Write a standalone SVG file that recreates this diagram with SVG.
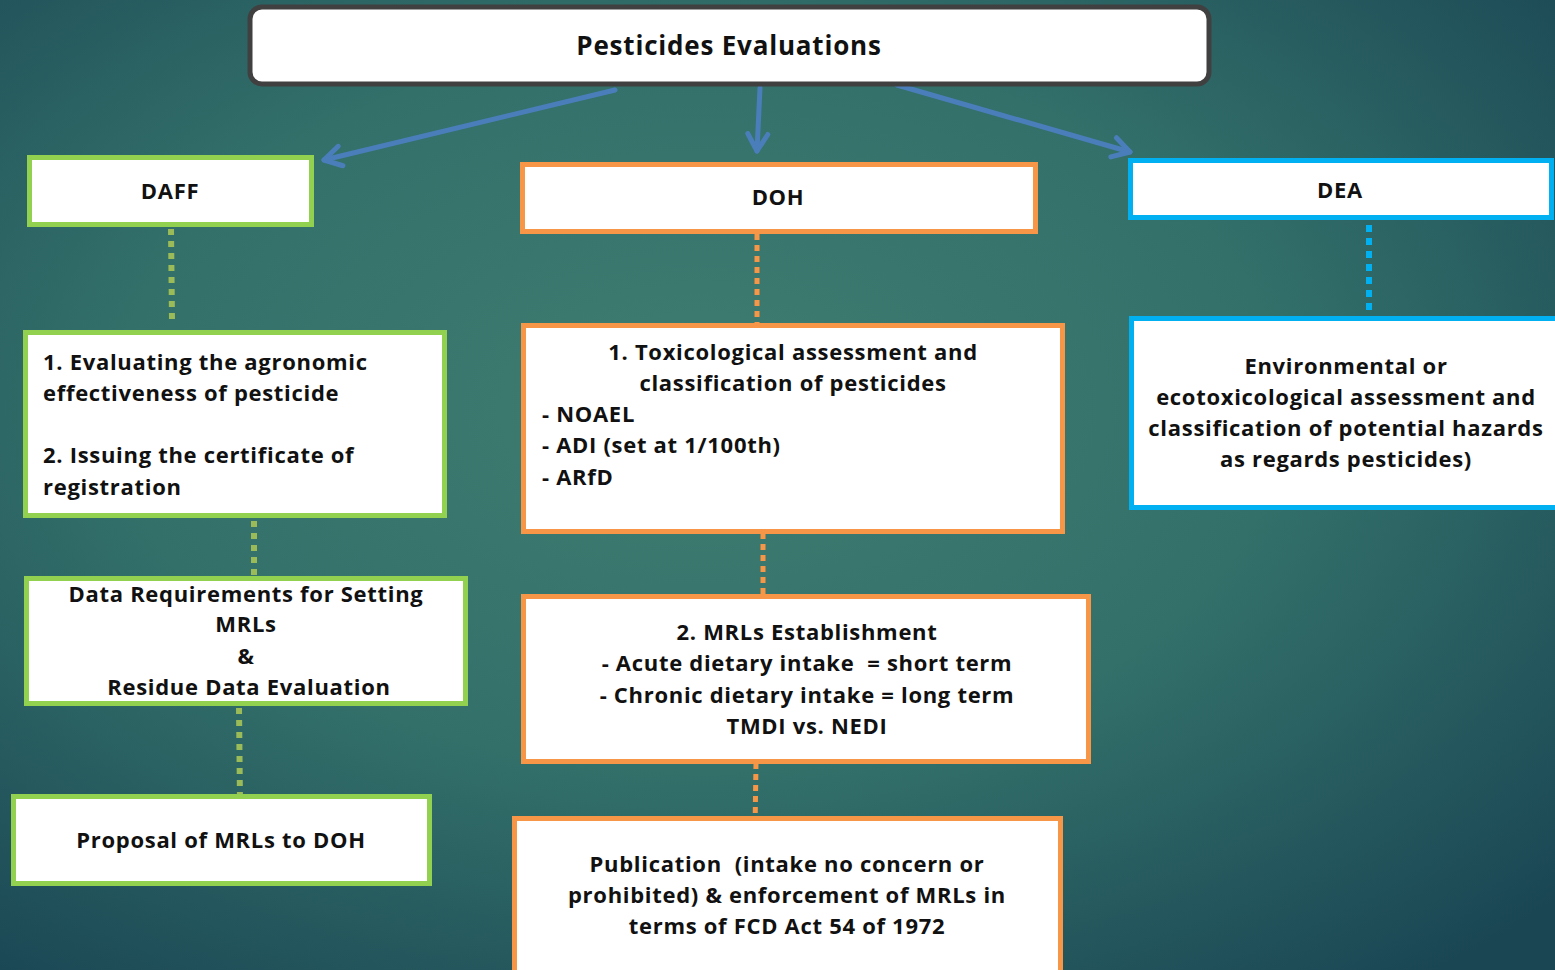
<svg xmlns="http://www.w3.org/2000/svg" width="1555" height="970" viewBox="0 0 1555 970">
<defs>
<radialGradient id="bg" cx="0.45" cy="0.42" r="0.75">
<stop offset="0" stop-color="#3f7d71"/>
<stop offset="0.5" stop-color="#33706a"/>
<stop offset="1" stop-color="#1a4654"/>
</radialGradient>
<marker id="ah" markerUnits="userSpaceOnUse" markerWidth="30" markerHeight="30" refX="20" refY="12" orient="auto" viewBox="0 0 30 24">
<path d="M3,2 L20,12 L3,22" fill="none" stroke="#4a7ebb" stroke-width="5" stroke-linecap="round" stroke-linejoin="round"/>
</marker>
<style>
.t{font-family:"Open Sans",Lato,"Liberation Sans",sans-serif;font-weight:bold;font-size:22px;letter-spacing:0.7px;fill:#111;}
.c{text-anchor:middle;}
.box{fill:#fff;stroke-width:5;}
.g{stroke:#92d050;}
.o{stroke:#f79646;}
.b{stroke:#00b0f0;}
.arr{stroke:#4a7ebb;stroke-width:5;fill:none;stroke-linecap:round;}
.dg{stroke:#9bbb59;stroke-width:6;stroke-dasharray:6 6;fill:none;}
.do{stroke:#f79646;stroke-width:5;stroke-dasharray:6 5;fill:none;}
.db{stroke:#00b0f0;stroke-width:6;stroke-dasharray:7 6;fill:none;}
</style>
</defs>
<rect x="0" y="0" width="1555" height="970" fill="url(#bg)"/>

<g id="connectors">
<line class="arr" x1="615" y1="90" x2="324" y2="160" marker-end="url(#ah)"/>
<line class="arr" x1="760" y1="88" x2="757" y2="151" marker-end="url(#ah)"/>
<line class="arr" x1="897" y1="85" x2="1130" y2="152" marker-end="url(#ah)"/>
<line class="dg" x1="171" y1="229" x2="172" y2="321"/>
<line class="dg" x1="254" y1="521" x2="254" y2="575"/>
<line class="dg" x1="239" y1="708" x2="240" y2="803"/>
<line class="do" x1="757" y1="234" x2="757" y2="324"/>
<line class="do" x1="763" y1="533" x2="763" y2="606"/>
<line class="do" x1="756" y1="763" x2="755" y2="830"/>
<line class="db" x1="1369" y1="225" x2="1369" y2="317"/>
</g>

<g id="top">
<rect x="250" y="7" width="959" height="77" rx="12" fill="#fff" stroke="#404040" stroke-width="5"/>
<text class="t c" x="729" y="55" style="font-size:26px;letter-spacing:0.8px">Pesticides Evaluations</text>
</g>

<g id="daff">
<rect class="box g" x="29.5" y="157.5" width="282" height="67"/>
<text class="t c" x="170" y="199">DAFF</text>
</g>

<g id="doh">
<rect class="box o" x="522.5" y="164.5" width="513" height="67"/>
<text class="t c" x="778" y="205">DOH</text>
</g>

<g id="dea">
<rect class="box b" x="1130.5" y="160.5" width="421" height="57"/>
<text class="t c" x="1340" y="198">DEA</text>
</g>

<g id="daff-tasks">
<rect class="box g" x="25.5" y="332.5" width="419" height="183"/>
<text class="t" x="43" y="370">1. Evaluating the agronomic</text>
<text class="t" x="43" y="401">effectiveness of pesticide</text>
<text class="t" x="43" y="463">2. Issuing the certificate of</text>
<text class="t" x="43" y="495">registration</text>
</g>

<g id="daff-data">
<rect class="box g" x="26.5" y="578.5" width="439" height="125"/>
<text class="t c" x="246" y="602">Data Requirements for Setting</text>
<text class="t c" x="246" y="632">MRLs</text>
<text class="t c" x="246" y="664">&amp;</text>
<text class="t c" x="249" y="695">Residue Data Evaluation</text>
</g>

<g id="daff-proposal">
<rect class="box g" x="13.5" y="796.5" width="416" height="87"/>
<text class="t c" x="221" y="848">Proposal of MRLs to DOH</text>
</g>

<g id="doh-tox">
<rect class="box o" x="523.5" y="325.5" width="539" height="206"/>
<text class="t c" x="793" y="360">1. Toxicological assessment and</text>
<text class="t c" x="793" y="391">classification of pesticides</text>
<text class="t" x="542" y="422">- NOAEL</text>
<text class="t" x="542" y="453">- ADI (set at 1/100th)</text>
<text class="t" x="542" y="485">- ARfD</text>
</g>

<g id="doh-mrl">
<rect class="box o" x="523.5" y="596.5" width="565" height="165"/>
<text class="t c" x="807" y="640">2. MRLs Establishment</text>
<text class="t c" x="807" y="671" xml:space="preserve">- Acute dietary intake  = short term</text>
<text class="t c" x="807" y="703">- Chronic dietary intake = long term</text>
<text class="t c" x="807" y="734">TMDI vs. NEDI</text>
</g>

<g id="doh-pub">
<rect class="box o" x="514.5" y="818.5" width="546" height="160"/>
<text class="t c" x="787" y="872" xml:space="preserve">Publication  (intake no concern or</text>
<text class="t c" x="787" y="903">prohibited) &amp; enforcement of MRLs in</text>
<text class="t c" x="787" y="934">terms of FCD Act 54 of 1972</text>
</g>

<g id="dea-env">
<rect class="box b" x="1131.5" y="318.5" width="440" height="189"/>
<text class="t c" x="1346" y="374">Environmental or</text>
<text class="t c" x="1346" y="405">ecotoxicological assessment and</text>
<text class="t c" x="1346" y="436">classification of potential hazards</text>
<text class="t c" x="1346" y="467">as regards pesticides)</text>
</g>
</svg>
